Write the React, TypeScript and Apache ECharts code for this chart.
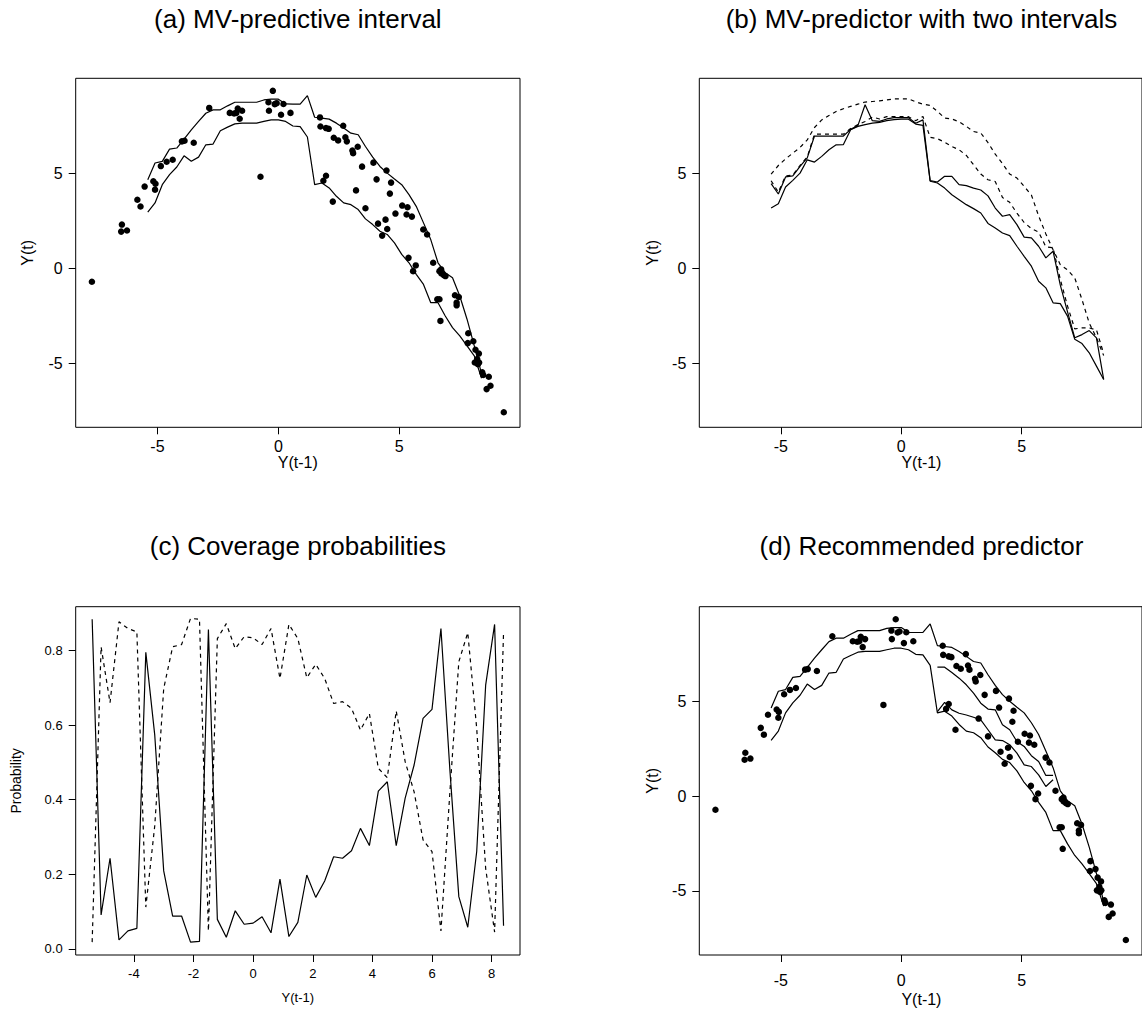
import React, { useEffect, useRef } from "react";
import * as echarts from "echarts";

// ---------- data ----------
const xGrid = [-5.4, -5.1, -4.8, -4.5, -4.2, -3.9, -3.6, -3.3, -3.0, -2.7, -2.4, -2.1, -1.8, -1.5, -1.2, -0.9, -0.6, -0.3, 0, 0.3, 0.6, 0.9, 1.2, 1.5, 1.8, 2.1, 2.4, 2.7, 3.0, 3.3, 3.6, 3.9, 4.2, 4.5, 4.8, 5.1, 5.4, 5.7, 6.0, 6.3, 6.6, 6.9, 7.2, 7.5, 7.8, 8.1, 8.4];

// (a) MV-predictive interval bounds (also outer bounds of (d))
const aUpper = [4.65, 5.53, 5.62, 6.26, 6.32, 6.79, 7.28, 7.72, 8.15, 8.33, 8.33, 8.54, 8.73, 8.73, 8.73, 8.73, 8.85, 8.89, 8.89, 8.64, 8.63, 8.63, 9.08, 7.94, 7.89, 7.84, 7.63, 7.37, 7.10, 7.02, 6.40, 5.84, 5.35, 5.00, 4.69, 4.39, 3.87, 3.25, 2.38, 1.50, 0.28, -0.24, -0.51, -1.47, -2.69, -4.09, -5.55];
const aLower = [2.94, 3.43, 4.39, 4.92, 5.32, 5.91, 5.62, 5.84, 6.49, 6.53, 7.23, 7.42, 7.59, 7.63, 7.63, 7.63, 7.72, 7.80, 7.80, 7.72, 7.48, 7.45, 6.90, 4.39, 4.48, 4.22, 3.78, 3.43, 3.34, 3.08, 2.59, 2.29, 1.94, 1.77, 1.33, 0.72, 0.28, -0.33, -0.86, -1.82, -1.82, -2.52, -3.13, -3.57, -4.09, -4.62, -5.80];

// observed pairs (Y(t-1), Y(t))
const ptsX = [-7.71, -6.47, -6.50, -6.26, -5.83, -5.70, -5.53, -5.17, -5.08, -5.10, -4.86, -4.62, -4.37, -3.99, -3.88, -3.50, -2.86, -2.01, -1.83, -1.68, -1.74, -1.50, -1.60, -0.74, -0.41, -0.23, -0.39, -0.15, -0.07, 0.21, 0.11, 0.50, 1.72, 1.74, 1.97, 2.08, 2.68, 2.29, 2.47, 2.77, 2.83, 3.06, 3.09, 3.28, 3.46, 3.93, 4.47, 4.06, 4.66, 1.97, 1.86, 2.25, 3.21, 3.60, 4.61, 5.12, 5.34, 5.30, 4.84, 5.52, 4.43, 4.12, 4.50, 4.29, 5.99, 6.15, 5.38, 5.68, 5.57, 6.40, 6.66, 6.73, 6.74, 6.84, 6.91, 6.57, 6.66, 6.70, 7.30, 7.46, 7.37, 7.37, 7.85, 7.83, 8.06, 8.15, 8.29, 8.22, 8.12, 8.25, 8.30, 8.43, 8.47, 8.70, 8.61, 8.77, 9.32];
const ptsY = [-0.72, 2.29, 1.92, 1.98, 3.60, 3.24, 4.29, 4.57, 4.44, 4.13, 5.37, 5.60, 5.70, 6.67, 6.70, 6.60, 8.43, 8.17, 8.14, 8.40, 8.17, 8.28, 7.86, 4.81, 8.73, 9.33, 8.28, 8.63, 8.68, 8.64, 8.07, 8.17, 7.93, 7.45, 7.37, 7.33, 7.49, 6.86, 6.72, 6.89, 6.67, 6.19, 6.05, 6.39, 5.34, 5.55, 5.14, 4.67, 4.50, 4.86, 4.60, 3.50, 4.09, 3.15, 3.92, 3.29, 3.20, 2.82, 2.87, 2.71, 2.55, 2.34, 2.06, 1.71, 2.03, 1.77, 0.54, 0.14, -0.16, 0.28, -0.16, -0.07, -0.28, -0.37, -0.42, -1.64, -1.64, -2.78, -1.43, -1.52, -1.82, -1.96, -3.43, -3.95, -3.85, -4.30, -4.50, -4.79, -4.97, -5.06, -4.97, -5.49, -5.63, -5.72, -6.37, -6.19, -7.59];

// (b) two intervals: solid = first interval, dashed = second interval
const bSolidLower = [3.16, 3.39, 4.27, 4.62, 5.00, 5.70, 5.58, 5.88, 6.23, 6.49, 6.50, 7.28, 7.46, 7.55, 7.63, 7.67, 7.76, 7.81, 7.84, 7.84, 7.58, 7.51, 4.57, 4.48, 4.21, 3.86, 3.60, 3.34, 3.13, 2.90, 2.35, 2.11, 1.85, 1.71, 1.15, 0.62, 0.10, -0.69, -1.04, -1.83, -1.87, -2.53, -3.75, -3.97, -4.46, -5.16, -5.86];
const bSolidUpper = [4.45, 3.90, 4.80, 4.85, 5.35, 5.80, 6.95, 6.95, 6.95, 6.95, 6.95, 7.30, 7.50, 8.60, 7.76, 7.72, 7.85, 7.92, 7.92, 7.92, 7.62, 7.80, 4.60, 4.53, 4.83, 4.83, 4.39, 4.34, 4.21, 4.11, 3.80, 3.16, 2.73, 2.81, 2.29, 1.63, 1.59, 1.15, 0.54, 0.89, -0.90, -2.30, -3.67, -3.50, -3.29, -3.67, -5.86];
const bDashLower = [4.60, 4.00, 4.85, 4.90, 5.40, 5.85, 7.05, 7.05, 7.05, 7.05, 7.05, 7.35, 7.55, 7.72, 7.95, 7.85, 7.97, 7.97, 7.97, 7.97, 7.76, 7.98, 6.88, 6.81, 6.63, 6.40, 6.23, 5.93, 5.44, 4.95, 4.65, 4.56, 3.72, 3.46, 2.89, 2.40, 2.08, 1.90, 1.12, 1.07, -0.60, -2.00, -3.20, -3.15, -3.15, -3.25, -4.50];
const bDashUpper = [4.94, 5.40, 5.75, 6.05, 6.35, 6.75, 7.40, 7.80, 8.03, 8.24, 8.39, 8.51, 8.63, 8.74, 8.77, 8.80, 8.85, 8.91, 8.91, 8.91, 8.75, 8.63, 8.56, 8.25, 7.90, 7.85, 7.70, 7.46, 7.19, 7.11, 6.60, 6.00, 5.50, 4.95, 4.74, 4.30, 3.85, 2.75, 1.80, 0.97, 0.18, -0.10, -0.52, -1.66, -2.89, -3.67, -4.60];

// (c) coverage probabilities of the two intervals
const cSolid = [0.884, 0.091, 0.243, 0.024, 0.048, 0.055, 0.795, 0.573, 0.209, 0.088, 0.088, 0.018, 0.020, 0.856, 0.079, 0.031, 0.102, 0.066, 0.069, 0.086, 0.043, 0.187, 0.033, 0.071, 0.198, 0.138, 0.182, 0.247, 0.243, 0.263, 0.323, 0.277, 0.423, 0.448, 0.277, 0.404, 0.493, 0.618, 0.642, 0.859, 0.480, 0.140, 0.058, 0.261, 0.707, 0.870, 0.062];
const cDash = [0.018, 0.810, 0.660, 0.877, 0.859, 0.850, 0.112, 0.330, 0.698, 0.810, 0.816, 0.886, 0.884, 0.048, 0.832, 0.872, 0.805, 0.837, 0.834, 0.816, 0.859, 0.725, 0.870, 0.832, 0.727, 0.763, 0.725, 0.658, 0.663, 0.645, 0.587, 0.631, 0.484, 0.459, 0.638, 0.502, 0.421, 0.292, 0.261, 0.048, 0.420, 0.770, 0.848, 0.591, 0.216, 0.045, 0.848];

// (d) inner bounds of the recommended (two-interval) predictor
const dInnerX = [1.5, 1.8, 2.1, 2.4, 2.7, 3.0, 3.3, 3.6, 3.9, 4.2, 4.5, 4.8, 5.1, 5.4, 5.7, 6.0, 6.3];
const dInnerUpper = [6.80, 6.80, 6.52, 6.22, 5.87, 5.43, 4.90, 4.59, 4.55, 3.76, 3.50, 2.88, 2.62, 2.13, 1.83, 1.09, 1.09];
const dInnerLower = [4.46, 4.94, 4.55, 4.37, 4.28, 4.16, 4.02, 3.50, 2.97, 2.93, 2.71, 2.27, 1.65, 1.56, 1.12, 0.51, 0.86];

// tick labels
const yTTicks = [-5, 0, 5];
const cXTicks = [-4, -2, 0, 2, 4, 6, 8];
const cYTicks = [0, 0.2, 0.4, 0.6, 0.8];

const titles = ["(a) MV-predictive interval", "(b) MV-predictor with two intervals", "(c) Coverage probabilities", "(d) Recommended predictor"];

// ---------- layout ----------
const FONT = '"Liberation Sans", Arial, Helvetica, sans-serif';
const LEFT_A = 75.7;
const LEFT_B = 699.3;
const W = 444.3;
const TOP_1 = 78.3;
const H_1 = 349;
const TOP_2 = 606.7;
const H_2 = 348.3;
const LIM = [-8.38, 9.99];
const C_XLIM = [-5.952, 8.952];
const C_YLIM = [-0.0165, 0.9175];
const TITLE_SIZE = 26;

const pairs = (xs: number[], ys: number[]) => xs.map((x, i) => [x, ys[i]]);

function axis(gridIndex: number, lim: number[], ticks: number[], fontSize: number, margin: number, fmt?: (v: number) => string) {
  return {
    type: "value",
    gridIndex,
    min: lim[0],
    max: lim[1],
    axisLine: { show: false, onZero: false },
    axisTick: { show: true, length: 7, customValues: ticks, lineStyle: { color: "#000", width: 1 } },
    axisLabel: {
      show: true,
      customValues: ticks,
      margin,
      color: "#000",
      fontFamily: FONT,
      fontSize,
      formatter: fmt ? (v: number) => fmt(v) : (v: number) => String(v),
    },
    splitLine: { show: false },
  };
}

function lineSeries(xi: number, xs: number[], ys: number[], dashed: boolean) {
  return {
    type: "line",
    xAxisIndex: xi,
    yAxisIndex: xi,
    data: pairs(xs, ys),
    showSymbol: false,
    symbol: "none",
    silent: true,
    lineStyle: { color: "#000", width: 1.2, type: dashed ? [4, 4] : "solid" },
  };
}

function scatterSeries(xi: number) {
  return {
    type: "scatter",
    xAxisIndex: xi,
    yAxisIndex: xi,
    data: pairs(ptsX, ptsY),
    symbol: "circle",
    symbolSize: 6.5,
    silent: true,
    itemStyle: { color: "#000", opacity: 1 },
  };
}

function text(t: string, x: number, y: number, size: number, rotate = false) {
  return {
    type: "text",
    x,
    y,
    rotation: rotate ? Math.PI / 2 : 0,
    silent: true,
    style: {
      text: t,
      font: `${size}px ${FONT}`,
      fill: "#000",
      align: "center",
      verticalAlign: "middle",
      textAlign: "center",
      textVerticalAlign: "middle",
    },
  };
}

export default function App() {
  const ref = useRef<HTMLDivElement>(null);
  useEffect(() => {
    if (!ref.current) return;
    const chart = echarts.init(ref.current, undefined, { renderer: "svg" });
    const border = { show: true, borderColor: "#000", borderWidth: 1, backgroundColor: "transparent" };
    const cxA = LEFT_A + W / 2;
    const cxB = LEFT_B + W / 2;
    const option = {
      animation: false,
      backgroundColor: "#fff",
      grid: [
        { left: LEFT_A, top: TOP_1, width: W, height: H_1, ...border },
        { left: LEFT_B, top: TOP_1, width: W, height: H_1, ...border },
        { left: LEFT_A, top: TOP_2, width: W, height: H_2, ...border },
        { left: LEFT_B, top: TOP_2, width: W, height: H_2, ...border },
      ],
      xAxis: [
        axis(0, LIM, yTTicks, 16, 11),
        axis(1, LIM, yTTicks, 16, 11),
        axis(2, C_XLIM, cXTicks, 13, 12),
        axis(3, LIM, yTTicks, 16, 17),
      ],
      yAxis: [
        axis(0, LIM, yTTicks, 16, 13),
        axis(1, LIM, yTTicks, 16, 13),
        axis(2, C_YLIM, cYTicks, 13, 13, (v: number) => v.toFixed(1)),
        axis(3, LIM, yTTicks, 16, 13),
      ],
      series: [
        scatterSeries(0),
        lineSeries(0, xGrid, aUpper, false),
        lineSeries(0, xGrid, aLower, false),
        lineSeries(1, xGrid, bSolidLower, false),
        lineSeries(1, xGrid, bSolidUpper, false),
        lineSeries(1, xGrid, bDashLower, true),
        lineSeries(1, xGrid, bDashUpper, true),
        lineSeries(2, xGrid, cSolid, false),
        lineSeries(2, xGrid, cDash, true),
        scatterSeries(3),
        lineSeries(3, xGrid, aUpper, false),
        lineSeries(3, xGrid, aLower, false),
        lineSeries(3, dInnerX, dInnerUpper, false),
        lineSeries(3, dInnerX, dInnerLower, false),
      ],
      graphic: [
        text(titles[0], cxA, 19, TITLE_SIZE),
        text(titles[1], cxB, 19, TITLE_SIZE),
        text(titles[2], cxA, 546, TITLE_SIZE),
        text(titles[3], cxB, 546, TITLE_SIZE),
        text("Y(t-1)", cxA, 462, 16),
        text("Y(t-1)", cxB, 462, 16),
        text("Y(t-1)", cxA, 997, 13),
        text("Y(t-1)", cxB, 999, 16),
        text("Y(t)", 27, TOP_1 + H_1 / 2, 16, true),
        text("Y(t)", 652, TOP_1 + H_1 / 2, 16, true),
        text("Probability", 16, TOP_2 + H_2 / 2, 14, true),
        text("Y(t)", 652, TOP_2 + H_2 / 2, 16, true),
      ],
    };
    chart.setOption(option as any);
    return () => chart.dispose();
  }, []);
  return (
    <div
      ref={ref}
      style={{ position: "absolute", left: 0, top: 0, width: 1142, height: 1030, background: "#fff" }}
    />
  );
}
